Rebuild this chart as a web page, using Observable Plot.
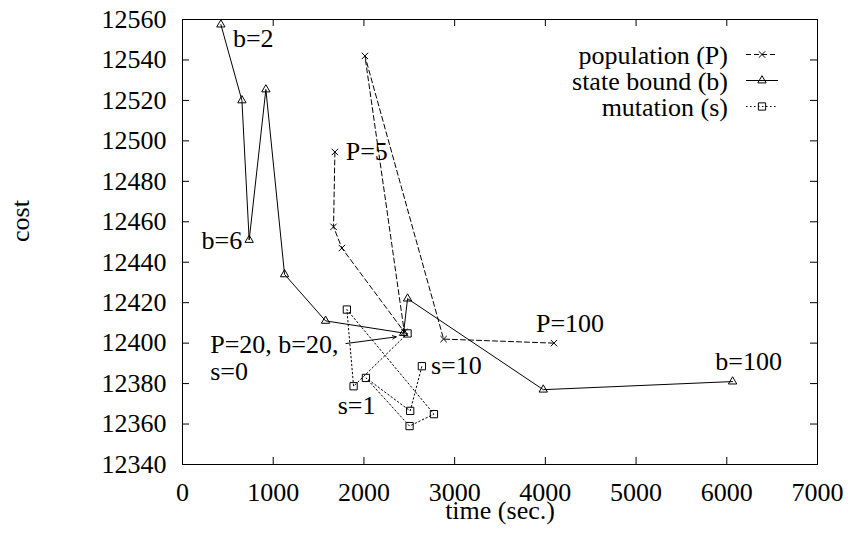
<!DOCTYPE html>
<html>
<head>
<meta charset="utf-8">
<script src="https://cdn.jsdelivr.net/npm/d3@7"></script>
<script src="https://cdn.jsdelivr.net/npm/@observablehq/plot@0.6"></script>
<style>
  html, body { margin: 0; padding: 0; background: #fff; }
  #chart { width: 848px; height: 533px; }
  #chart svg, #chart svg text { font-family: "Liberation Serif", "Times New Roman", Times, "DejaVu Serif", serif !important; }
</style>
</head>
<body>
<div id="chart"></div>
<script>
// ---- data (time in sec., cost) ----
const popTime   = [1680, 1665, 1757, 2445, 2011, 2878, 4095];
const popCost   = [12494.5, 12457.5, 12447, 12405.5, 12542, 12402, 12400];

const stateTime = [423, 655, 735, 919, 1125, 1577, 2437, 2481, 3977, 6064];
const stateCost = [12557.5, 12520, 12451, 12525.4, 12434, 12411, 12405, 12422, 12377, 12381];

const mutTime   = [2481, 1886, 1812, 2772, 2503, 2022, 2510, 2639];
const mutCost   = [12404.8, 12378.7, 12416.6, 12364.9, 12359, 12382.8, 12366.5, 12388.6];

const seriesNames = ["population (P)", "state bound (b)", "mutation (s)"];

const xTicks = [0, 1000, 2000, 3000, 4000, 5000, 6000, 7000];
const yTicks = [12340, 12360, 12380, 12400, 12420, 12440, 12460, 12480, 12500, 12520, 12540, 12560];

// annotations
const labelText = ["b=2", "b=6", "P=5", "P=20, b=20,", "s=0", "s=1", "s=10", "P=100", "b=100"];
const labelTime = [556, 658, 1799, 305, 305, 1711, 2739, 3896, 5873];
const labelCost = [12550.3, 12450.9, 12494.8, 12399.3, 12385.8, 12369.3, 12388.7, 12409.7, 12390.7];
const labelEnd  = [false, true, false, false, false, false, false, false, false];

const arrowFrom = [1801, 12399.8];
const arrowTo   = [2356, 12403.1];

// ---- build tables ----
const pop   = popTime.map((t, i) => ({t, c: popCost[i]}));
const state = stateTime.map((t, i) => ({t, c: stateCost[i]}));
const mut   = mutTime.map((t, i) => ({t, c: mutCost[i]}));
const labels = labelText.map((s, i) => ({s, t: labelTime[i], c: labelCost[i], end: labelEnd[i]}));

const width = 848, height = 533;
const mTop = 19, mRight = 31, mBottom = 69, mLeft = 182;
const fw = width - mLeft - mRight, fh = height - mTop - mBottom;
const FONT = "Liberation Serif, Times New Roman, serif";

const styles = [
  {dash: "5,3", symbol: "times", r: 3.0},
  {dash: null, symbol: "triangle", r: 3.1},
  {dash: "1.5,2.5", symbol: "square", r: 4.1}
];

function legend(index, scales, values, dims) {
  const g = d3.create("svg:g");
  const xr = dims.width - dims.marginRight;
  const yt = dims.marginTop;
  seriesNames.forEach((name, i) => {
    const st = styles[i];
    const cy = yt + 35.5 + i * 26;
    g.append("text")
      .attr("x", xr - 89).attr("y", cy + 9)
      .attr("text-anchor", "end")
      .attr("fill", "black")
      .text(name);
    const ln = g.append("line")
      .attr("x1", xr - 71).attr("x2", xr - 39)
      .attr("y1", cy).attr("y2", cy)
      .attr("stroke", "black").attr("stroke-width", 1);
    if (st.dash) ln.attr("stroke-dasharray", st.dash);
    const sym = {times: d3.symbolTimes, triangle: d3.symbolTriangle, square: d3.symbolSquare}[st.symbol];
    g.append("path")
      .attr("d", d3.symbol(sym, st.r * st.r * Math.PI)())
      .attr("transform", `translate(${xr - 55},${cy})`)
      .attr("fill", "none").attr("stroke", "black").attr("stroke-width", 1);
  });
  return g.node();
}

const series = [pop, state, mut];

const chart = Plot.plot({
  width, height,
  marginTop: mTop, marginRight: mRight, marginBottom: mBottom, marginLeft: mLeft,
  style: {fontFamily: FONT, fontSize: "26px", background: "white", color: "black", overflow: "visible"},
  x: {domain: [0, 7000]},
  y: {domain: [12340, 12560]},
  marks: [
    ...series.map((d, i) => Plot.line(d, {
      x: "t", y: "c", stroke: "black", strokeWidth: 1,
      strokeDasharray: styles[i].dash || undefined
    })),
    ...series.map((d, i) => Plot.dot(d, {
      x: "t", y: "c", symbol: styles[i].symbol, r: styles[i].r,
      fill: "none", stroke: "black", strokeWidth: 1
    })),
    Plot.arrow([{x1: arrowFrom[0], y1: arrowFrom[1], x2: arrowTo[0], y2: arrowTo[1]}], {
      x1: "x1", y1: "y1", x2: "x2", y2: "y2",
      stroke: "black", strokeWidth: 1, headLength: 6, headAngle: 50
    }),
    Plot.text(labels.filter(d => !d.end), {x: "t", y: "c", text: "s", textAnchor: "start", fill: "black"}),
    Plot.text(labels.filter(d => d.end), {x: "t", y: "c", text: "s", textAnchor: "end", fill: "black"}),
    Plot.frame({stroke: "black", strokeWidth: 1}),
    Plot.tickX(xTicks, {x: d => d, insetTop: fh - 7, stroke: "black", strokeWidth: 1}),
    Plot.tickX(xTicks, {x: d => d, insetBottom: fh - 7, stroke: "black", strokeWidth: 1}),
    Plot.tickY(yTicks, {y: d => d, insetRight: fw - 7, stroke: "black", strokeWidth: 1}),
    Plot.tickY(yTicks, {y: d => d, insetLeft: fw - 7, stroke: "black", strokeWidth: 1}),
    Plot.axisX({ticks: xTicks, tickSize: 0, tickPadding: 18, tickFormat: "d", label: null, fill: "black"}),
    Plot.axisY({ticks: yTicks, tickSize: 0, tickPadding: 16, tickFormat: "d", label: null, fill: "black"}),
    Plot.text(["time (sec.)"], {frameAnchor: "bottom", dy: 54.5, text: d => d, fill: "black"}),
    Plot.text(["cost"], {frameAnchor: "left", rotate: -90, dx: -162, text: d => d, fill: "black"}),
    legend
  ]
});

document.getElementById("chart").appendChild(chart);
</script>
</body>
</html>
